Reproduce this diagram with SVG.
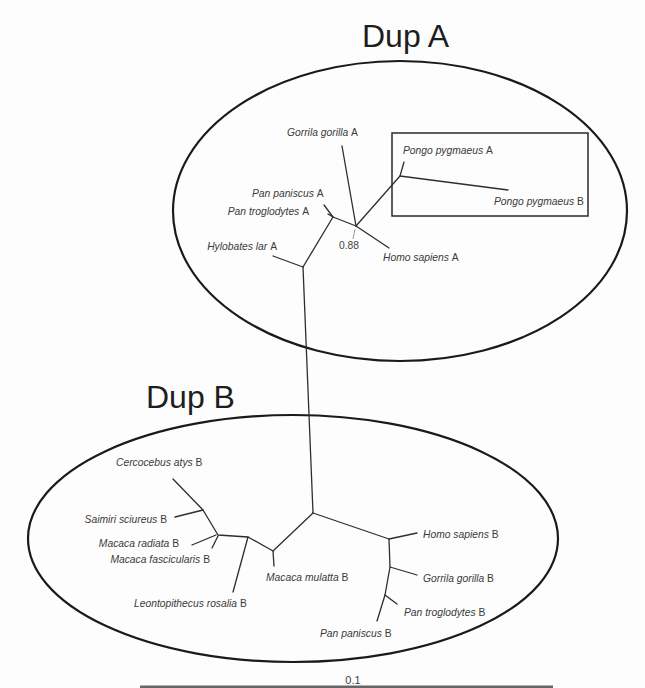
<svg xmlns="http://www.w3.org/2000/svg" width="645" height="688" viewBox="0 0 645 688">
<style>
.bg{fill:#fdfdfd}
.title{font-family:"Liberation Sans",Arial,sans-serif;font-size:32px;fill:#1e1e1e}
.lbl{font-family:"Liberation Sans",Arial,sans-serif;font-size:10.3px;font-style:italic;fill:#3a3a3a}
.lbl tspan.g{font-style:normal}
.num{font-family:"Liberation Sans",Arial,sans-serif;font-size:10.3px;fill:#444}
.ell{fill:none;stroke:#1a1a1a;stroke-width:2.2}
.box{fill:none;stroke:#2a2a2a;stroke-width:1.5}
.br{fill:none;stroke:#2e2e2e;stroke-width:1.3;stroke-linecap:round;stroke-linejoin:round}
.tick{stroke:#999;stroke-width:1}
.scale{stroke:#666;stroke-width:3}
</style>
<rect class="bg" x="0" y="0" width="645" height="688"/>

<g id="dupA">
  <ellipse class="ell" cx="400" cy="211" rx="227" ry="150"/>
  <text class="title" x="362" y="47">Dup A</text>
</g>
<g id="dupB">
  <ellipse class="ell" cx="293" cy="538.5" rx="265" ry="123.5"/>
  <text class="title" x="146" y="408">Dup B</text>
</g>
<g id="pongo-box">
  <rect class="box" x="392" y="133" width="196" height="83"/>
</g>

<g id="connectors">
  <!-- Dup A subtree -->
  <polyline class="br" points="342,146 356,226"/>
  <polyline class="br" points="356,226 389,248"/>
  <polyline class="br" points="356,226 400,176"/>
  <polyline class="br" points="404,162 400,176 508,190"/>
  <polyline class="br" points="356,226 333,217 303,267"/>
  <polyline class="br" points="324,205 333,217"/>
  <polyline class="br" points="328,214 333,217"/>
  <polyline class="br" points="273,256 303,267"/>
  <!-- trunk -->
  <polyline class="br" points="303,267 313,513"/>
  <!-- Dup B subtree -->
  <polyline class="br" points="313,513 273,551 248,537 218,535 203,510 173,479"/>
  <polyline class="br" points="175,517 203,510"/>
  <polyline class="br" points="192,545 216,535"/>
  <polyline class="br" points="212,548 218,536"/>
  <polyline class="br" points="248,537 233,592"/>
  <polyline class="br" points="273,551 274,566"/>
  <polyline class="br" points="313,513 389,539 390,567 385,595 377,621"/>
  <polyline class="br" points="389,539 417,533"/>
  <polyline class="br" points="390,567 417,575"/>
  <polyline class="br" points="385,595 397,604"/>
  <line class="tick" x1="355" y1="229" x2="353" y2="239"/>
</g>

<g id="gorilla-A"><text class="lbl" x="287" y="136">Gorrila gorilla <tspan class="g">A</tspan></text></g>
<g id="pongo-A"><text class="lbl" x="403" y="154">Pongo pygmaeus <tspan class="g">A</tspan></text></g>
<g id="pongo-B"><text class="lbl" x="494" y="205">Pongo pygmaeus <tspan class="g">B</tspan></text></g>
<g id="pan-paniscus-A"><text class="lbl" x="252" y="197">Pan paniscus <tspan class="g">A</tspan></text></g>
<g id="pan-troglodytes-A"><text class="lbl" x="309" y="215" text-anchor="end">Pan troglodytes <tspan class="g">A</tspan></text></g>
<g id="hylobates-A"><text class="lbl" x="277" y="250" text-anchor="end">Hylobates lar <tspan class="g">A</tspan></text></g>
<g id="homo-A"><text class="lbl" x="383" y="261">Homo sapiens <tspan class="g">A</tspan></text></g>
<g id="support-088"><text class="num" x="339" y="249">0.88</text></g>

<g id="cercocebus-B"><text class="lbl" x="116" y="466">Cercocebus atys <tspan class="g">B</tspan></text></g>
<g id="saimiri-B"><text class="lbl" x="167" y="523" text-anchor="end">Saimiri sciureus <tspan class="g">B</tspan></text></g>
<g id="macaca-radiata-B"><text class="lbl" x="179" y="547" text-anchor="end">Macaca radiata <tspan class="g">B</tspan></text></g>
<g id="macaca-fascicularis-B"><text class="lbl" x="210" y="563" text-anchor="end">Macaca fascicularis <tspan class="g">B</tspan></text></g>
<g id="leontopithecus-B"><text class="lbl" x="134" y="607">Leontopithecus rosalia <tspan class="g">B</tspan></text></g>
<g id="macaca-mulatta-B"><text class="lbl" x="266" y="581">Macaca mulatta <tspan class="g">B</tspan></text></g>
<g id="homo-B"><text class="lbl" x="423" y="538">Homo sapiens <tspan class="g">B</tspan></text></g>
<g id="gorilla-B"><text class="lbl" x="423" y="582">Gorrila gorilla <tspan class="g">B</tspan></text></g>
<g id="pan-troglodytes-B"><text class="lbl" x="404" y="616">Pan troglodytes <tspan class="g">B</tspan></text></g>
<g id="pan-paniscus-B"><text class="lbl" x="320" y="637">Pan paniscus <tspan class="g">B</tspan></text></g>

<g id="scale-bar">
  <line class="scale" x1="140" y1="687" x2="553" y2="687"/>
  <text class="num" x="353" y="684" text-anchor="middle" style="font-size:11px">0.1</text>
</g>
</svg>
